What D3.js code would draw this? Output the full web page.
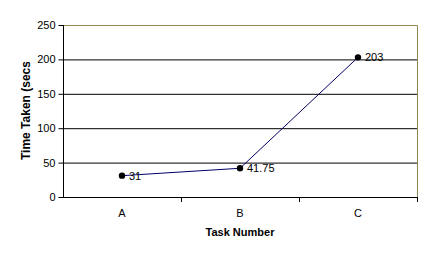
<!DOCTYPE html>
<html><head><meta charset="utf-8">
<script src="https://cdn.jsdelivr.net/npm/d3@7/dist/d3.min.js"></script>
<style>body{margin:0;background:#fff}svg{display:block}text{font-family:Arial,"Liberation Sans",sans-serif}</style>
</head><body>
<script>
const categories = ["A","B","C"];
const values = [31, 41.75, 203];
const valueLabels = ["31","41.75","203"];
const yTicks = [0,50,100,150,200,250];

const W=432,H=257;
const m={left:63,right:15,top:25,bottom:60};
const svg=d3.select("body").append("svg").attr("width",W).attr("height",H);
const x=d3.scaleBand().domain(categories).range([m.left,W-m.right]);
const y=d3.scaleLinear().domain([0,250]).range([H-m.bottom,m.top]);

// gridlines
svg.append("g").selectAll("line").data(yTicks.filter(d=>d>0&&d<250)).join("line")
  .attr("x1",m.left).attr("x2",W-m.right).attr("y1",d=>y(d)+0.5).attr("y2",d=>y(d)+0.5)
  .attr("stroke","#000").attr("stroke-width",1);
// top/right border
svg.append("path").attr("d",`M${m.left},${y(250)+0.5}H${W-m.right+0.5}V${y(0)}`)
  .attr("fill","none").attr("stroke","#8a8a50").attr("stroke-width",1);

const ya=svg.append("g").attr("transform",`translate(${m.left+0.5},0)`)
  .call(d3.axisLeft(y).tickValues(yTicks).tickSize(5).tickPadding(3));
ya.select(".domain").attr("stroke","#000").attr("d",`M0,${y(250)}V${y(0)}`);
ya.selectAll("text").attr("font-size",11).attr("fill","#000").attr("font-family","Arial,'Liberation Sans',sans-serif");

const xa=svg.append("g").attr("transform",`translate(0,${y(0)+0.5})`)
  .call(d3.axisBottom(x).tickSize(0).tickPadding(12));
xa.select(".domain").attr("stroke","#000").attr("d",`M${m.left},0H${W-m.right}`);
xa.selectAll("text").attr("font-size",11).attr("fill","#000").attr("font-family","Arial,'Liberation Sans',sans-serif");
// category boundary ticks
svg.append("g").selectAll("line").data(categories.slice(1).concat(["end"])).join("line")
  .attr("x1",(d,i)=>Math.round(m.left+x.step()*(i+1))+0.5).attr("x2",(d,i)=>Math.round(m.left+x.step()*(i+1))+0.5)
  .attr("y1",y(0)).attr("y2",y(0)+5).attr("stroke","#000");

const cx=d=>x(d)+x.bandwidth()/2;
svg.append("path").datum(categories.map((c,i)=>[cx(c),y(values[i])]))
  .attr("d",d3.line()).attr("fill","none").attr("stroke","#000066").attr("stroke-width",1);
svg.append("g").selectAll("circle").data(categories).join("circle")
  .attr("cx",cx).attr("cy",(c,i)=>y(values[i])).attr("r",3.2).attr("fill","#000");
svg.append("g").selectAll("text").data(categories).join("text")
  .attr("x",d=>cx(d)+7).attr("y",(c,i)=>y(values[i])+4).attr("font-size",11).attr("fill","#000")
  .text((c,i)=>valueLabels[i]);

// axis titles
svg.append("clipPath").attr("id","yc").append("rect").attr("x",0).attr("y",62).attr("width",60).attr("height",200);
svg.append("g").attr("clip-path","url(#yc)").append("text")
  .attr("transform",`translate(30,160) rotate(-90)`)
  .attr("text-anchor","start").attr("font-size",12).attr("font-weight","bold").text("Time Taken (secs)");
svg.append("text").attr("x",(m.left+W-m.right)/2).attr("y",236).attr("text-anchor","middle")
  .attr("font-size",11).attr("font-weight","bold").text("Task Number");
</script>
</body></html>
